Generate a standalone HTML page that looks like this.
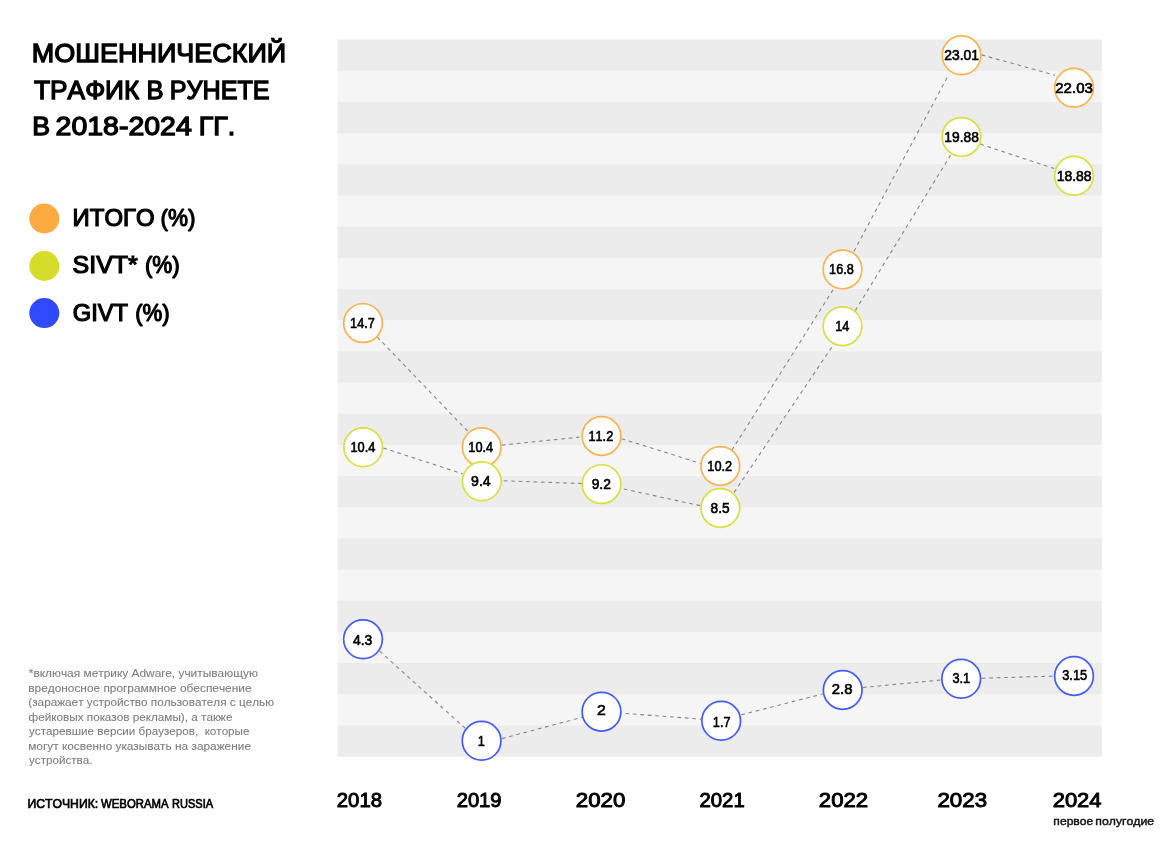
<!DOCTYPE html>
<html lang="ru"><head><meta charset="utf-8">
<title>Мошеннический трафик в Рунете в 2018-2024 гг.</title>
<style>
html,body{margin:0;padding:0;background:#fff;}
body{width:1176px;height:844px;overflow:hidden;position:relative;}
svg{position:absolute;left:0;top:0;display:block;}
text{font-family:"Liberation Sans", sans-serif;font-kerning:none;white-space:pre;stroke-linejoin:miter;stroke-miterlimit:2;}
.title{font-size:26.02px;font-weight:400;fill:#000;stroke:#000;stroke-width:1.3px;}
.leg{font-size:23.26px;font-weight:400;fill:#000;stroke:#000;stroke-width:1.2px;}
.note{font-size:11.77px;font-weight:400;fill:#7c7c7c;stroke:#7c7c7c;stroke-width:0.08px;}
.src{font-size:12.38px;font-weight:400;fill:#000;stroke:#000;stroke-width:0.68px;}
.year{font-size:20.97px;font-weight:400;fill:#000;stroke:#000;stroke-width:0.95px;}
.sub{font-size:11.83px;font-weight:400;fill:#111;stroke:#111;stroke-width:0.45px;}
.val{font-size:14.12px;font-weight:400;fill:#000;stroke:#000;stroke-width:0.6px;}
.ln{stroke:#868686;stroke-width:1.1;stroke-dasharray:3.7 3.74;fill:none;}
.c{fill:#fff;stroke-width:1.7;stroke-opacity:0.9;}
</style></head><body>
<svg width="1176" height="844" viewBox="0 0 1176 844">
<g>
<rect x="337.70" y="39.70" width="764.00" height="716.91" fill="#f5f5f5"/>
<rect x="337.70" y="39.70" width="764.00" height="31.17" fill="#ececec"/>
<rect x="337.70" y="102.04" width="764.00" height="31.17" fill="#ececec"/>
<rect x="337.70" y="164.38" width="764.00" height="31.17" fill="#ececec"/>
<rect x="337.70" y="226.72" width="764.00" height="31.17" fill="#ececec"/>
<rect x="337.70" y="289.06" width="764.00" height="31.17" fill="#ececec"/>
<rect x="337.70" y="351.40" width="764.00" height="31.17" fill="#ececec"/>
<rect x="337.70" y="413.74" width="764.00" height="31.17" fill="#ececec"/>
<rect x="337.70" y="476.08" width="764.00" height="31.17" fill="#ececec"/>
<rect x="337.70" y="538.42" width="764.00" height="31.17" fill="#ececec"/>
<rect x="337.70" y="600.76" width="764.00" height="31.17" fill="#ececec"/>
<rect x="337.70" y="663.10" width="764.00" height="31.17" fill="#ececec"/>
<rect x="337.70" y="725.44" width="764.00" height="31.17" fill="#ececec"/>
</g>
<g class="ln">
<line x1="377.4" y1="337.1" x2="467.8" y2="431.4"/>
<line x1="502.0" y1="445.1" x2="579.4" y2="437.1"/>
<line x1="621.6" y1="438.7" x2="700.6" y2="463.4"/>
<line x1="731.9" y1="450.2" x2="834.0" y2="288.3"/>
<line x1="853.9" y1="251.4" x2="948.8" y2="74.4"/>
<line x1="981.6" y1="54.9" x2="1055.1" y2="75.2"/>
<line x1="383.3" y1="448.0" x2="462.5" y2="473.8"/>
<line x1="503.8" y1="480.8" x2="581.8" y2="483.5"/>
<line x1="623.8" y1="489.0" x2="700.8" y2="505.8"/>
<line x1="734.1" y1="492.4" x2="833.1" y2="345.2"/>
<line x1="855.4" y1="310.4" x2="950.5" y2="155.2"/>
<line x1="980.3" y1="144.1" x2="1054.2" y2="168.6"/>
<line x1="379.7" y1="651.2" x2="465.6" y2="728.6"/>
<line x1="501.9" y1="738.6" x2="581.8" y2="717.4"/>
<line x1="625.5" y1="713.5" x2="701.2" y2="719.1"/>
<line x1="741.3" y1="714.8" x2="822.6" y2="694.0"/>
<line x1="862.8" y1="687.5" x2="941.2" y2="680.0"/>
<line x1="981.8" y1="678.2" x2="1053.9" y2="676.1"/>
</g>
<g>
<circle class="c" cx="363.0" cy="323.1" r="19.35" stroke="#fbab40"/>
<text class="val" x="350.12" y="327.95" textLength="24.73" lengthAdjust="spacingAndGlyphs">14.7</text>
<circle class="c" cx="481.7" cy="447.2" r="19.35" stroke="#fbab40"/>
<text class="val" x="468.33" y="452.30" textLength="24.85" lengthAdjust="spacingAndGlyphs">10.4</text>
<circle class="c" cx="601.5" cy="436.0" r="19.35" stroke="#fbab40"/>
<text class="val" x="588.47" y="441.25" textLength="24.73" lengthAdjust="spacingAndGlyphs">11.2</text>
<circle class="c" cx="720.3" cy="466.0" r="19.35" stroke="#fbab40"/>
<text class="val" x="707.33" y="471.15" textLength="24.81" lengthAdjust="spacingAndGlyphs">10.2</text>
<circle class="c" cx="842.5" cy="269.4" r="19.35" stroke="#fbab40"/>
<text class="val" x="829.08" y="274.15" textLength="24.73" lengthAdjust="spacingAndGlyphs">16.8</text>
<circle class="c" cx="961.5" cy="55.3" r="19.35" stroke="#fbab40"/>
<text class="val" x="944.20" y="59.75" textLength="34.78" lengthAdjust="spacingAndGlyphs">23.01</text>
<circle class="c" cx="1074.0" cy="87.8" r="19.35" stroke="#fbab40"/>
<text class="val" x="1055.24" y="92.65" textLength="37.72" lengthAdjust="spacingAndGlyphs">22.03</text>
</g>
<g>
<circle class="c" cx="363.2" cy="447.3" r="19.35" stroke="#d5dd2a"/>
<text class="val" x="350.42" y="452.30" textLength="24.95" lengthAdjust="spacingAndGlyphs">10.4</text>
<circle class="c" cx="481.8" cy="481.3" r="19.35" stroke="#d5dd2a"/>
<text class="val" x="471.04" y="486.30" textLength="19.68" lengthAdjust="spacingAndGlyphs">9.4</text>
<circle class="c" cx="601.5" cy="484.1" r="19.35" stroke="#d5dd2a"/>
<text class="val" x="591.65" y="489.30" textLength="19.25" lengthAdjust="spacingAndGlyphs">9.2</text>
<circle class="c" cx="720.3" cy="508.0" r="19.35" stroke="#d5dd2a"/>
<text class="val" x="710.60" y="513.10" textLength="19.07" lengthAdjust="spacingAndGlyphs">8.5</text>
<circle class="c" cx="842.5" cy="326.2" r="19.35" stroke="#d5dd2a"/>
<text class="val" x="835.18" y="331.25" textLength="14.14" lengthAdjust="spacingAndGlyphs">14</text>
<circle class="c" cx="961.5" cy="136.9" r="19.35" stroke="#d5dd2a"/>
<text class="val" x="944.35" y="142.05" textLength="34.55" lengthAdjust="spacingAndGlyphs">19.88</text>
<circle class="c" cx="1074.0" cy="175.8" r="19.35" stroke="#d5dd2a"/>
<text class="val" x="1056.64" y="181.05" textLength="34.97" lengthAdjust="spacingAndGlyphs">18.88</text>
</g>
<g>
<circle class="c" cx="363.0" cy="639.3" r="19.35" stroke="#304aff"/>
<text class="val" x="352.98" y="644.85" textLength="19.33" lengthAdjust="spacingAndGlyphs">4.3</text>
<circle class="c" cx="481.6" cy="740.8" r="19.35" stroke="#304aff"/>
<text class="val" x="477.69" y="745.75" textLength="7.07" lengthAdjust="spacingAndGlyphs">1</text>
<circle class="c" cx="601.5" cy="711.7" r="19.35" stroke="#304aff"/>
<text class="val" x="597.11" y="715.15" textLength="8.79" lengthAdjust="spacingAndGlyphs">2</text>
<circle class="c" cx="721.2" cy="720.8" r="19.35" stroke="#304aff"/>
<text class="val" x="712.85" y="726.65" textLength="17.67" lengthAdjust="spacingAndGlyphs">1.7</text>
<circle class="c" cx="842.7" cy="690.0" r="19.35" stroke="#304aff"/>
<text class="val" x="831.85" y="693.75" textLength="20.70" lengthAdjust="spacingAndGlyphs">2.8</text>
<circle class="c" cx="961.2" cy="678.8" r="19.35" stroke="#304aff"/>
<text class="val" x="952.39" y="683.15" textLength="17.67" lengthAdjust="spacingAndGlyphs">3.1</text>
<circle class="c" cx="1074.0" cy="676.0" r="19.35" stroke="#304aff"/>
<text class="val" x="1062.21" y="680.45" textLength="24.93" lengthAdjust="spacingAndGlyphs">3.15</text>
</g>
<text class="title"><tspan x="31.84" y="62.35" textLength="254.32" lengthAdjust="spacingAndGlyphs">МОШЕННИЧЕСКИЙ</tspan> <tspan x="34.06" y="98.75" textLength="105.24" lengthAdjust="spacingAndGlyphs">ТРАФИК</tspan> <tspan x="146.45" y="98.75" textLength="17.04" lengthAdjust="spacingAndGlyphs">В</tspan> <tspan x="169.68" y="98.75" textLength="99.95" lengthAdjust="spacingAndGlyphs">РУНЕТЕ</tspan> <tspan x="32.16" y="135.25" textLength="17.80" lengthAdjust="spacingAndGlyphs">В</tspan> <tspan x="55.62" y="135.25" textLength="136.17" lengthAdjust="spacingAndGlyphs">2018-2024</tspan> <tspan x="198.65" y="135.25" textLength="36.56" lengthAdjust="spacingAndGlyphs">ГГ.</tspan></text>
<circle cx="44.3" cy="218.5" r="15" fill="#fbab40"/>
<circle cx="44.3" cy="266.0" r="15" fill="#d5dd2a"/>
<circle cx="44.3" cy="313.1" r="15" fill="#304aff"/>
<text class="leg"><tspan x="72.64" y="226.30" textLength="81.90" lengthAdjust="spacingAndGlyphs">ИТОГО</tspan> <tspan x="160.60" y="226.30" textLength="34.99" lengthAdjust="spacingAndGlyphs">(%)</tspan></text>
<text class="leg"><tspan x="72.57" y="273.00" textLength="65.22" lengthAdjust="spacingAndGlyphs">SIVT*</tspan> <tspan x="144.91" y="273.00" textLength="34.88" lengthAdjust="spacingAndGlyphs">(%)</tspan></text>
<text class="leg"><tspan x="72.71" y="321.30" textLength="55.34" lengthAdjust="spacingAndGlyphs">GIVT</tspan> <tspan x="135.22" y="321.00" textLength="34.56" lengthAdjust="spacingAndGlyphs">(%)</tspan></text>
<text class="note"><tspan x="28.85" y="677.36" textLength="229.01" lengthAdjust="spacingAndGlyphs">*включая метрику Adware, учитывающую</tspan> <tspan x="28.22" y="691.86" textLength="223.27" lengthAdjust="spacingAndGlyphs">вредоносное программное обеспечение</tspan> <tspan x="28.31" y="706.36" textLength="245.74" lengthAdjust="spacingAndGlyphs">(заражает устройство пользователя с целью</tspan> <tspan x="28.55" y="720.96" textLength="203.93" lengthAdjust="spacingAndGlyphs">фейковых показов рекламы), а также</tspan> <tspan x="29.01" y="735.46" textLength="220.47" lengthAdjust="spacingAndGlyphs">устаревшие версии браузеров,  которые</tspan> <tspan x="28.22" y="749.96" textLength="222.77" lengthAdjust="spacingAndGlyphs">могут косвенно указывать на заражение</tspan> <tspan x="29.01" y="763.96" textLength="63.41" lengthAdjust="spacingAndGlyphs">устройства.</tspan></text>
<text class="src"><tspan x="27.54" y="807.66" textLength="70.63" lengthAdjust="spacingAndGlyphs">ИСТОЧНИК:</tspan> <tspan x="101.09" y="807.66" textLength="67.39" lengthAdjust="spacingAndGlyphs">WEBORAMA</tspan> <tspan x="172.03" y="807.66" textLength="41.15" lengthAdjust="spacingAndGlyphs">RUSSIA</tspan></text>
<text class="year" x="336.75" y="806.52" textLength="45.26" lengthAdjust="spacingAndGlyphs">2018</text>
<text class="year" x="456.66" y="806.52" textLength="44.92" lengthAdjust="spacingAndGlyphs">2019</text>
<text class="year" x="575.86" y="806.52" textLength="49.54" lengthAdjust="spacingAndGlyphs">2020</text>
<text class="year" x="699.55" y="806.52" textLength="45.16" lengthAdjust="spacingAndGlyphs">2021</text>
<text class="year" x="818.86" y="806.52" textLength="49.28" lengthAdjust="spacingAndGlyphs">2022</text>
<text class="year" x="937.45" y="806.52" textLength="49.65" lengthAdjust="spacingAndGlyphs">2023</text>
<text class="year" x="1052.67" y="806.52" textLength="48.90" lengthAdjust="spacingAndGlyphs">2024</text>
<text class="sub"><tspan x="1053.39" y="824.77" textLength="39.82" lengthAdjust="spacingAndGlyphs">первое</tspan> <tspan x="1095.38" y="824.77" textLength="58.64" lengthAdjust="spacingAndGlyphs">полугодие</tspan></text>
</svg>
</body></html>
